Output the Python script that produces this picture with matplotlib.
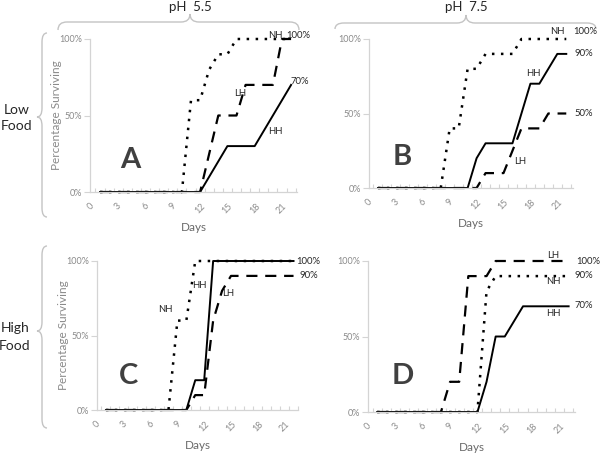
import numpy as np
import matplotlib
matplotlib.use('Agg')
import matplotlib.pyplot as plt
from matplotlib.path import Path
from matplotlib.patches import PathPatch

plt.rcParams['font.family'] = ['Lato', 'DejaVu Sans']

# Survival data, days 1..22 (percent surviving)
days = np.arange(1, 23)

a_nh = [0] * 10 + [60, 60, 80, 90, 90] + [100] * 7
a_lh = [0] * 12 + [25, 50, 50, 50, 70, 70, 70, 70, 100, 100]
a_hh = [0] * 12 + [10, 20, 30, 30, 30, 30, 40, 50, 60, 70]

b_nh = [0] * 8 + [40, 40, 80, 80, 90, 90, 90, 90] + [100] * 6
b_lh = [0] * 12 + [10, 10, 10, 25, 40, 40, 40, 50, 50, 50]
b_hh = [0] * 11 + [20, 30, 30, 30, 30, 50, 70, 70, 80, 90, 90]

c_nh = [0] * 8 + [60, 60] + [100] * 12
c_lh = [0] * 10 + [10, 10, 60, 80] + [90] * 8
c_hh = [0] * 10 + [20, 20] + [100] * 10

d_nh = [0] * 12 + [80] + [90] * 9
d_lh = [0] * 8 + [20, 20, 90, 90, 90] + [100] * 9
d_hh = [0] * 12 + [20, 50, 50, 60, 70] + [70] * 5

x_tick_days = list(range(0, 22, 3))
y_ticks = [0, 50, 100]
y_tick_labels = ['0%', '50%', '100%']

W, H = 600, 457
fig = plt.figure(figsize=(W / 100, H / 100), dpi=100)

# overlay in pixel coords for braces and free text
ov = fig.add_axes([0, 0, 1, 1])
ov.set_xlim(0, W)
ov.set_ylim(H, 0)
ov.axis('off')
ov.patch.set_alpha(0)

GRAY_AX = '#d4d4d4'
GRAY_TXT = '#8a8a8a'
DARK = '#262626'


def add_panel(box, xlim, letter, letter_pos, nh, lh, hh, ylabel):
    left, right, top, bottom = box
    ax = fig.add_axes([left / W, 1 - bottom / H, (right - left) / W,
                       (bottom - top) / H])
    ax.patch.set_alpha(0)
    ax.plot(days, nh, color='black', lw=1.8, ls=(0, (1, 2.6)),
            clip_on=False)
    ax.plot(days, lh, color='black', lw=1.6, ls=(0, (5, 3.5)),
            clip_on=False)
    ax.plot(days, hh, color='black', lw=1.4, clip_on=False)
    ax.set_xlim(*xlim)
    ax.set_ylim(0, 100)
    for s in ['top', 'right']:
        ax.spines[s].set_visible(False)
    for s in ['left', 'bottom']:
        ax.spines[s].set_color(GRAY_AX)
        ax.spines[s].set_linewidth(0.9)
    ax.set_xticks(x_tick_days)
    ax.set_xticklabels([str(d) for d in x_tick_days], rotation=45,
                       ha='center', va='top', fontsize=6.5, color=GRAY_TXT)
    ax.set_xticks(np.arange(0.5, 23, 1), minor=True)
    ax.tick_params(axis='x', which='major', length=0, pad=7)
    ax.tick_params(axis='x', which='minor', length=3, direction='in',
                   color=GRAY_AX, width=0.8)
    ax.set_yticks(y_ticks)
    ax.set_yticklabels(y_tick_labels, fontsize=6.5, color=GRAY_TXT)
    ax.tick_params(axis='y', length=4, color=GRAY_AX, width=0.8, pad=2)
    ax.set_xlabel('Days', fontsize=8.5, color='#6a6a6a', labelpad=5)
    if ylabel:
        ax.set_ylabel('Percentage Surviving', fontsize=8.5, color=GRAY_TXT,
                      labelpad=-2)
    ov.text(letter_pos[0], letter_pos[1], letter, fontsize=21,
            fontweight='bold', color='#404040', ha='center', va='center')
    return ax


add_panel((90, 297, 39, 192), (-0.1, 22.65), 'A', (130, 160),
          a_nh, a_lh, a_hh, True)
add_panel((369, 573, 39, 188), (0.35, 22.75), 'B', (402, 157),
          b_nh, b_lh, b_hh, False)
add_panel((97, 298, 261, 410), (0.2, 22.35), 'C', (128, 376),
          c_nh, c_lh, c_hh, True)
add_panel((368, 575, 261, 412), (0.35, 22.7), 'D', (403, 376),
          d_nh, d_lh, d_hh, False)

# series labels and end values (pixel positions)
notes = [
    ('NH', 275, 36), ('100%', 298, 36), ('LH', 240, 93), ('HH', 275, 132),
    ('70%', 300, 81),
    ('NH', 557, 32), ('100%', 585, 32), ('90%', 584, 54), ('HH', 533, 73),
    ('50%', 584, 114), ('LH', 520, 161),
    ('NH', 165, 310), ('HH', 199, 285), ('LH', 228, 293),
    ('100%', 308, 261), ('90%', 309, 275),
    ('LH', 553, 255), ('100%', 588, 261), ('NH', 553, 282),
    ('90%', 584, 276), ('HH', 553, 314), ('70%', 584, 306),
]
for txt, x, y in notes:
    ov.text(x, y, txt, fontsize=6.8, color=DARK, ha='center', va='center')


def brace(x0, x1, xm, y_end, y_mid, y_tip, r=9, vertical=False):
    pts = [(x0, y_end), (x0, y_mid), (x0 + r, y_mid),
           (xm - r, y_mid), (xm, y_mid), (xm, y_tip),
           (xm, y_mid), (xm + r, y_mid),
           (x1 - r, y_mid), (x1, y_mid), (x1, y_end)]
    if vertical:
        pts = [(b, a) for a, b in pts]
    codes = [Path.MOVETO, Path.CURVE3, Path.CURVE3, Path.LINETO,
             Path.CURVE3, Path.CURVE3, Path.CURVE3, Path.CURVE3,
             Path.LINETO, Path.CURVE3, Path.CURVE3]
    ov.add_patch(PathPatch(Path(pts, codes), fill=False, ec='#c4c4c4',
                           lw=1.0))


brace(58, 299, 190, 30, 22, 14)
brace(335, 596, 466, 29, 23, 15)
brace(33, 217, 117, 47, 42, 37, vertical=True)
brace(246, 428, 331, 47, 42, 37, vertical=True)

ov.text(190, 7, 'pH  5.5', fontsize=9.5, color=DARK, ha='center',
        va='center')
ov.text(466, 7, 'pH  7.5', fontsize=9.5, color=DARK, ha='center',
        va='center')
ov.text(17, 118, 'Low\nFood', fontsize=10, color=DARK, ha='center',
        va='center', linespacing=1.5)
ov.text(15, 337, 'High\nFood', fontsize=10, color=DARK, ha='center',
        va='center', linespacing=1.5)

fig.savefig('out.png', dpi=100)
